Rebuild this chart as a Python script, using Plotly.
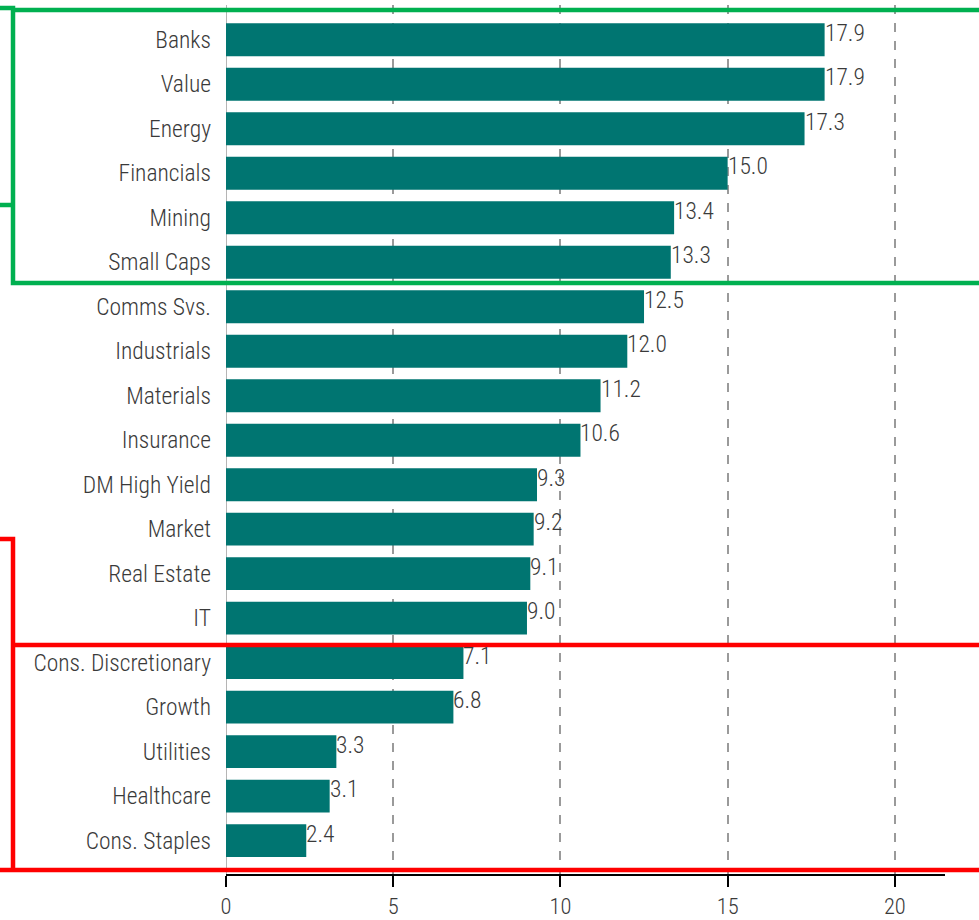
import plotly.graph_objects as go

categories = ["Banks", "Value", "Energy", "Financials", "Mining", "Small Caps",
              "Comms Svs.", "Industrials", "Materials", "Insurance", "DM High Yield",
              "Market", "Real Estate", "IT", "Cons. Discretionary", "Growth",
              "Utilities", "Healthcare", "Cons. Staples"]
values = [17.9, 17.9, 17.3, 15.0, 13.4, 13.3, 12.5, 12.0, 11.2, 10.6, 9.3,
          9.2, 9.1, 9.0, 7.1, 6.8, 3.3, 3.1, 2.4]
x_ticks = [0, 5, 10, 15, 20]

W, H = 979, 920
L, R, T, B = 226, 34, 5, 46
FONT = "Roboto Condensed, DejaVu Sans Condensed, sans-serif"
TEXT = "#3a3a3a"
FS = 23.5

fig = go.Figure(go.Bar(
    x=values, y=categories, orientation="h",
    marker=dict(color="#007571", line=dict(width=0)),
    hoverinfo="skip",
))

for c, v in zip(categories, values):
    fig.add_annotation(x=v, y=c, text=f"{v:.1f}", showarrow=False,
                       xanchor="left", yanchor="middle", xshift=-2, yshift=7,
                       font=dict(family=FONT, size=FS, color=TEXT, weight=300))

pw, ph = W - L - R, H - T - B
def px(x):
    return (x - L) / pw
def py(y):
    return (H - B - y) / ph

def path(points):
    s = ""
    for i, (x, y) in enumerate(points):
        s += ("M" if i == 0 else " L") + f" {px(x):.5f},{py(y):.5f}"
    return s

green = "#00B050"
red = "#FF0000"
LW = 4.5
shapes = [
    dict(type="path", xref="paper", yref="paper",
         path=path([(0, 8), (13, 8), (13, 283), (1000, 283)]),
         line=dict(color=green, width=LW)),
    dict(type="path", xref="paper", yref="paper",
         path=path([(13, 10), (1000, 10)]), line=dict(color=green, width=LW)),
    dict(type="path", xref="paper", yref="paper",
         path=path([(0, 205), (13, 205)]), line=dict(color=green, width=LW)),
    dict(type="path", xref="paper", yref="paper",
         path=path([(0, 539), (13, 539), (13, 870)]), line=dict(color=red, width=LW)),
    dict(type="path", xref="paper", yref="paper",
         path=path([(13, 645), (1000, 645)]), line=dict(color=red, width=LW)),
    dict(type="path", xref="paper", yref="paper",
         path=path([(0, 870), (1000, 870)]), line=dict(color=red, width=LW)),
]

fig.update_layout(
    width=W, height=H,
    margin=dict(l=L, r=R, t=T, b=B, autoexpand=False),
    paper_bgcolor="white", plot_bgcolor="white",
    showlegend=False,
    bargap=0.26,
    font=dict(family=FONT, size=FS, color=TEXT, weight=300),
    shapes=shapes,
    xaxis=dict(range=[0, 21.5], tickvals=x_ticks, ticktext=[str(t) for t in x_ticks],
               automargin=False,
               showgrid=True, gridcolor="#9a9a9a", griddash="dash", gridwidth=2,
               zeroline=True, zerolinecolor="#b5b5b5", zerolinewidth=1,
               showline=True, linecolor="black", linewidth=2,
               ticks="outside", ticklen=11, tickwidth=2, tickcolor="black",
               ticklabelstandoff=0,
               tickfont=dict(family=FONT, size=22.5, color=TEXT, weight=300)),
    yaxis=dict(categoryorder="array", categoryarray=categories,
               automargin=False,
               range=[18.75, -0.78], showgrid=False, zeroline=False,
               showline=False, ticks="", ticklabelstandoff=14,
               tickfont=dict(family=FONT, size=FS, color=TEXT, weight=300)),
)

fig.write_html("out.html", config={"displayModeBar": False},
               post_script="document.body.style.margin='0';document.body.style.overflow='hidden';")
